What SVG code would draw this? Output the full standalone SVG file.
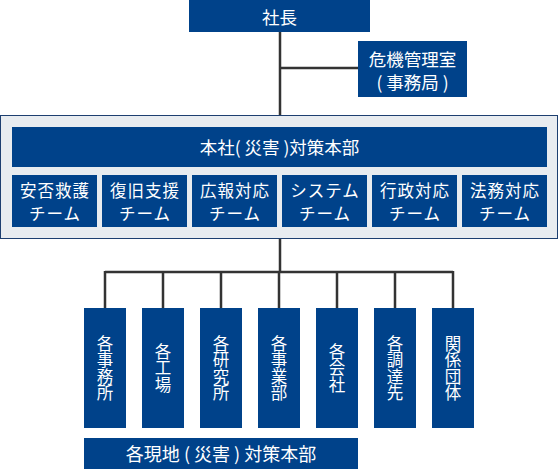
<svg xmlns="http://www.w3.org/2000/svg" width="560" height="470" viewBox="0 0 560 470">
<style>
.b{fill:#00428a}
.t{fill:#fff;font-family:"Noto Sans CJK JP","Noto Sans",sans-serif;font-size:17.5px;text-anchor:middle;dominant-baseline:central}
.m{font-size:16.5px;letter-spacing:1px}
.v{writing-mode:vertical-rl;font-size:16.5px}
.c{stroke:#333;stroke-width:2.5;fill:none}
</style>
<rect width="560" height="470" fill="#fff"/>
<g id="connectors">
<path class="c" d="M280 32V116M280 68H358M280 238V272M105 272H453M105 271V308M163 271V308M221 271V308M279 271V308M337 271V308M395 271V308M453 271V308"/>
</g>
<g id="president"><rect class="b" x="189" y="0" width="181" height="32"/><text class="t" x="279.500" y="16">社長</text></g>
<g id="crisis-office"><rect class="b" x="358" y="41" width="109" height="56"/><text class="t" x="412.500" y="58">危機管理室</text><text class="t" x="412.500" y="81">( 事務局 )</text></g>
<g id="hq-group">
<rect x="0.500" y="115.500" width="557" height="123" fill="#e8ecf0" stroke="#1d3f70" stroke-width="1"/>
</g>
<g id="hq"><rect class="b" x="12" y="127" width="535" height="40"/><text class="t" x="279.500" y="146">本社( 災害 )対策本部</text></g>
<g id="team1"><rect class="b" x="12" y="175" width="85" height="52"/><text class="t m" x="55" y="190">安否救護</text><text class="t m" x="55" y="213">チーム</text></g>
<g id="team2"><rect class="b" x="102" y="175" width="85" height="52"/><text class="t m" x="145" y="190">復旧支援</text><text class="t m" x="145" y="213">チーム</text></g>
<g id="team3"><rect class="b" x="192" y="175" width="85" height="52"/><text class="t m" x="235" y="190">広報対応</text><text class="t m" x="235" y="213">チーム</text></g>
<g id="team4"><rect class="b" x="282" y="175" width="85" height="52"/><text class="t m" x="325" y="190">システム</text><text class="t m" x="325" y="213">チーム</text></g>
<g id="team5"><rect class="b" x="372" y="175" width="85" height="52"/><text class="t m" x="415" y="190">行政対応</text><text class="t m" x="415" y="213">チーム</text></g>
<g id="team6"><rect class="b" x="462" y="175" width="85" height="52"/><text class="t m" x="505" y="190">法務対応</text><text class="t m" x="505" y="213">チーム</text></g>
<g id="unit1"><rect class="b" x="84" y="308" width="42" height="120"/><text class="t v" x="105" y="368">各事務所</text></g>
<g id="unit2"><rect class="b" x="142" y="308" width="42" height="120"/><text class="t v" x="163" y="368">各工場</text></g>
<g id="unit3"><rect class="b" x="200" y="308" width="42" height="120"/><text class="t v" x="221" y="368">各研究所</text></g>
<g id="unit4"><rect class="b" x="258" y="308" width="42" height="120"/><text class="t v" x="279" y="368">各事業部</text></g>
<g id="unit5"><rect class="b" x="316" y="308" width="42" height="120"/><text class="t v" x="337" y="368">各会社</text></g>
<g id="unit6"><rect class="b" x="374" y="308" width="42" height="120"/><text class="t v" x="395" y="368">各調達先</text></g>
<g id="unit7"><rect class="b" x="432" y="308" width="42" height="120"/><text class="t v" x="453" y="368">関係団体</text></g>
<g id="local-hq"><rect class="b" x="84" y="438" width="274" height="31"/><text class="t" x="221" y="453" style="font-size:18px">各現地 ( 災害 ) 対策本部</text></g>
</svg>
